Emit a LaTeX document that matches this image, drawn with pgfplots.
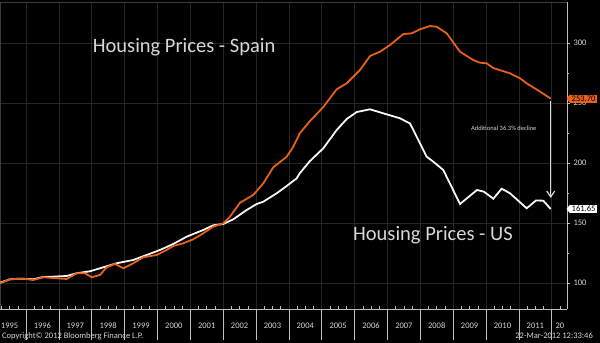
\documentclass[border=0pt]{standalone}
\usepackage{fontspec}
\setmainfont{Carlito}
\usepackage{pgfplots}
\pgfplotsset{compat=1.18}
\usetikzlibrary{arrows.meta}
\definecolor{spain}{RGB}{232,96,26}
\definecolor{gridc}{RGB}{38,38,38}
\definecolor{txt}{RGB}{215,215,215}
\definecolor{axc}{RGB}{190,190,190}
\definecolor{framec}{RGB}{60,60,60}
\begin{document}
\begin{tikzpicture}
\useasboundingbox (0,0) rectangle (600bp,343bp);
\fill[black] (0,0) rectangle (600bp,343bp);
\begin{axis}[
  at={(0bp,34bp)}, anchor=south west,
  scale only axis, width=567bp, height=307bp,
  xmin=1995.209, xmax=2012.464, ymin=78.3, ymax=334.2,
  axis x line*=bottom, axis y line*=right,
  axis line style={draw=axc, line width=0.8bp, -},
  xtick={1996,...,2012}, xticklabels={}, xtick style={draw=none},
  ytick={100,150,...,300}, minor y tick num=1,
  ytick style={draw=axc, line width=0.6bp},
  tick align=outside, major tick length=3bp, minor tick length=2bp,
  yticklabel pos=right,
  grid=major, major grid style={draw=gridc, line width=0.5bp},
  tick label style={font=\fontsize{8.5bp}{10bp}\selectfont, text=txt},
  /pgf/number format/assume math mode=true,
  extra x ticks={1995.5,1996.5,1997.5,1998.5,1999.5,2000.5,2001.5,2002.5,2003.5,2004.5,2005.5,2006.5,2007.5,2008.5,2009.5,2010.5,2011.5,2012.25},
  extra x tick labels={1995,1996,1997,1998,1999,2000,2001,2002,2003,2004,2005,2006,2007,2008,2009,2010,2011,20},
  extra x tick style={grid=none, xticklabel style={anchor=center, yshift=-14bp}},
  clip=false,
]
\draw[framec, line width=0.8bp] (axis cs:1995.209,78.3) -- (axis cs:1995.209,333.6) -- (axis cs:2012.464,333.6);
\pgfplotsinvokeforeach{1996,...,2012}{
  \draw[draw=axc, line width=0.6bp] (axis cs:#1,78.3) -- (axis cs:#1,52.46);
}
\pgfplotsinvokeforeach{1995,...,2011}{
  \draw[draw=axc, line width=0.5bp] (axis cs:#1.25,78.3) -- (axis cs:#1.25,80.5);
  \draw[draw=axc, line width=0.5bp] (axis cs:#1.5,78.3) -- (axis cs:#1.5,80.5);
  \draw[draw=axc, line width=0.5bp] (axis cs:#1.75,78.3) -- (axis cs:#1.75,80.5);
}
\draw[draw=axc, line width=0.5bp] (axis cs:2012.25,78.3) -- (axis cs:2012.25,80.5);
\addplot[white!94!gray, line width=1.8bp] table {
1995.209 100.25
1995.513 103.08
1995.817 103.58
1996.222 103.08
1996.526 105.00
1996.831 105.25
1997.239 105.83
1997.543 108.08
1997.948 109.75
1998.352 113.08
1998.760 116.42
1999.265 119.17
1999.673 123.33
2000.078 127.50
2000.483 132.50
2000.890 138.58
2001.091 140.83
2001.396 144.17
2001.700 148.08
2002.004 149.17
2002.309 153.08
2002.716 160.83
2003.021 165.83
2003.222 167.75
2003.629 174.75
2003.934 180.83
2004.238 187.25
2004.338 191.67
2004.643 201.67
2005.048 212.25
2005.455 227.50
2005.760 236.67
2006.064 242.50
2006.469 244.75
2006.873 241.42
2007.382 237.25
2007.686 232.92
2008.194 205.25
2008.395 201.08
2008.699 194.17
2009.208 165.83
2009.725 177.50
2009.935 176.08
2010.221 170.25
2010.476 178.58
2010.729 174.75
2011.237 162.25
2011.520 168.75
2011.742 168.58
2011.968 161.65
};
\addplot[spain, line width=1.8bp] table {
1995.209 99.75
1995.513 103.08
1995.918 103.58
1996.222 102.50
1996.526 104.75
1996.934 103.92
1997.239 103.33
1997.543 108.08
1997.796 108.08
1997.999 104.75
1998.252 106.67
1998.456 113.08
1998.708 115.83
1998.961 112.25
1999.265 116.42
1999.570 121.42
1999.977 123.33
2000.282 127.50
2000.483 130.83
2000.787 133.08
2001.091 136.42
2001.396 141.42
2001.700 146.92
2002.004 149.75
2002.208 155.25
2002.512 166.92
2002.917 173.33
2003.222 183.08
2003.526 196.42
2003.934 205.25
2004.134 213.58
2004.338 225.00
2004.643 235.00
2005.048 246.67
2005.455 261.42
2005.760 266.42
2006.164 277.50
2006.469 289.17
2006.773 292.75
2007.077 298.33
2007.482 307.50
2007.738 308.08
2007.990 311.42
2008.294 314.17
2008.498 313.58
2008.803 308.08
2009.208 292.75
2009.612 285.83
2009.816 283.58
2010.020 283.08
2010.221 279.17
2010.729 274.75
2011.034 270.58
2011.237 266.42
2011.599 260.25
2011.968 253.70
};
\draw[txt, line width=1.2bp, -{Straight Barb[length=6bp,width=8bp]}] (axis cs:2011.968,252) -- (axis cs:2011.968,170.8);
\node[font=\fontsize{6.5bp}{8bp}\selectfont, text=txt] at (axis cs:2010.54,228.9) {Additional 36.3\% decline};
\node[anchor=west, inner sep=0, font=\fontsize{20.5bp}{24bp}\selectfont, text=txt] at (axis cs:1998.03,296.25) {Housing Prices - Spain};
\node[anchor=west, inner sep=0, font=\fontsize{20.5bp}{24bp}\selectfont, text=txt] at (axis cs:2005.95,140) {Housing Prices - US};
\node[fill=spain, text=black, anchor=west, xshift=3bp, inner xsep=1.5bp, inner ysep=1.2bp, font=\fontsize{8.5bp}{10bp}\selectfont] (t1) at (axis cs:2012.464,253.7) {253.70};
\fill[spain] (t1.north west) -- ([xshift=-3.5bp]t1.west) -- (t1.south west) -- cycle;
\node[fill=white, text=black, anchor=west, xshift=3bp, inner xsep=1.5bp, inner ysep=1.2bp, font=\fontsize{8.5bp}{10bp}\selectfont] (t2) at (axis cs:2012.464,161.65) {161.65};
\fill[white] (t2.north west) -- ([xshift=-3.5bp]t2.west) -- (t2.south west) -- cycle;
\end{axis}
\node[anchor=base west, inner sep=0, font=\fontsize{8.5bp}{10bp}\selectfont, text=txt] at (2bp,4.7bp) {Copyright© 2012 Bloomberg Finance L.P.};
\node[anchor=base east, inner sep=0, font=\fontsize{8.5bp}{10bp}\selectfont, text=txt] at (593bp,4.7bp) {22-Mar-2012 12:33:46};
\end{tikzpicture}
\end{document}
